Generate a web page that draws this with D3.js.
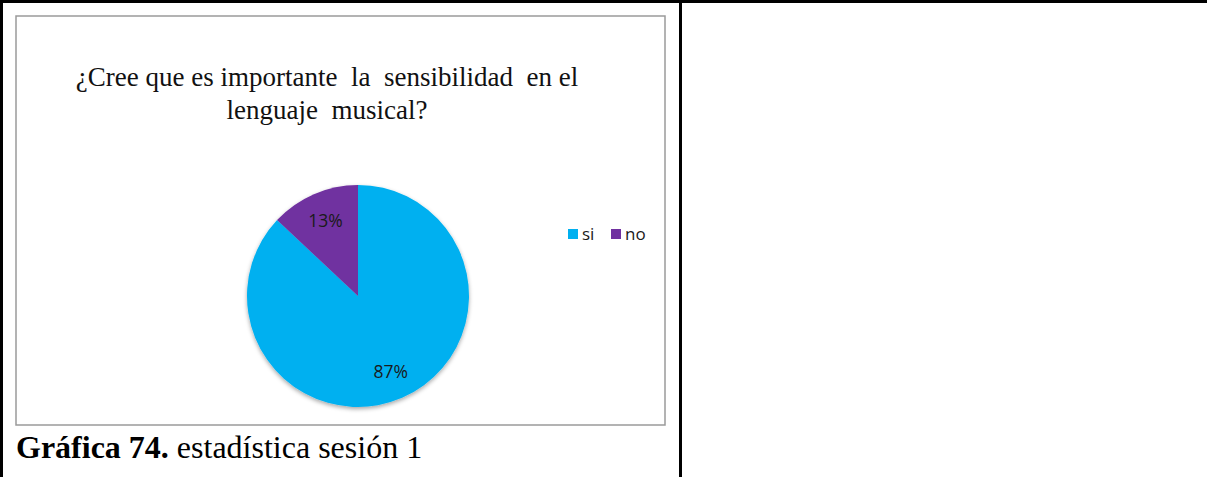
<!DOCTYPE html>
<html><head><meta charset="utf-8">
<script src="https://cdn.jsdelivr.net/npm/d3@7"></script>
<style>html,body{margin:0;padding:0;background:#fff;}svg{display:block;}</style>
</head><body>
<svg id="c" width="1207" height="477"></svg>
<script>
const categories = ["si", "no"];
const values = [87, 13];
const labels = ["87%", "13%"];
const colors = ["#00B0F0", "#7030A0"];
const titleLines = ["¿Cree que es importante  la  sensibilidad  en el", "lenguaje  musical?"];

const svg = d3.select("#c");
const defs = svg.append("defs");
const f = defs.append("filter").attr("id","sh").attr("x","-20%").attr("y","-20%").attr("width","140%").attr("height","150%");
f.append("feDropShadow").attr("dx",0).attr("dy",2).attr("stdDeviation",2).attr("flood-color","#000").attr("flood-opacity",0.35);

// table borders
svg.append("rect").attr("x",0).attr("y",0).attr("width",1207).attr("height",3).attr("fill","#000");
svg.append("rect").attr("x",0).attr("y",0).attr("width",3).attr("height",477).attr("fill","#000");
svg.append("rect").attr("x",679).attr("y",0).attr("width",3).attr("height",477).attr("fill","#000");

// chart box
svg.append("rect").attr("x",16).attr("y",16).attr("width",649).attr("height",409)
  .attr("fill","#fff").attr("stroke","#9a9a9a").attr("stroke-width",1.5);

// title
svg.append("text").attr("x",327).attr("y",86).attr("text-anchor","middle")
  .attr("font-family","Liberation Serif, Times New Roman, serif").attr("font-size",27).attr("fill","#111")
  .selectAll("tspan").data(titleLines).join("tspan")
  .attr("x",327).attr("dy",(d,i)=> i===0?0:33).style("white-space","pre").text(d=>d);

// pie
const cx = 358, cy = 296, r = 111;
const pie = d3.pie().sort(null).value(d=>d.v).startAngle(0).endAngle(2*Math.PI);
const data = categories.map((c,i)=>({c, v:values[i], l:labels[i], col:colors[i]}));
const arcs = pie(data);
const arc = d3.arc().innerRadius(0).outerRadius(r);
const g = svg.append("g").attr("transform",`translate(${cx},${cy})`);
g.append("g").attr("filter","url(#sh)").selectAll("path").data(arcs).join("path")
  .attr("d",arc).attr("fill",d=>d.data.col);
const lab = d3.arc().innerRadius(r*0.74).outerRadius(r*0.74);
g.selectAll("text").data(arcs).join("text")
  .attr("transform",d=>{const p=lab.centroid(d);return `translate(${p[0]},${p[1]})`;})
  .attr("text-anchor","middle").attr("dy","0.35em")
  .attr("font-family","Open Sans, Liberation Sans, sans-serif").attr("font-size",17.5).attr("fill","#1a1a1a")
  .text(d=>d.data.l);

// legend
const leg = svg.append("g").attr("transform","translate(568,229)");
const items = leg.selectAll("g").data(data).join("g").attr("transform",(d,i)=>`translate(${i*43},0)`);
items.append("rect").attr("width",10).attr("height",10).attr("fill",d=>d.col);
items.append("text").attr("x",14).attr("y",10.5).attr("font-family","Open Sans, Liberation Sans, sans-serif")
  .attr("font-size",17).attr("fill","#1a1a1a").text(d=>d.c);

// caption
const cap = svg.append("text").attr("x",16).attr("y",458)
  .attr("font-family","Liberation Serif, Times New Roman, serif").attr("font-size",32).attr("fill","#000");
cap.append("tspan").attr("font-weight","bold").text("Gráfica 74.");
cap.append("tspan").text(" estadística sesión 1");
</script>
</body></html>
